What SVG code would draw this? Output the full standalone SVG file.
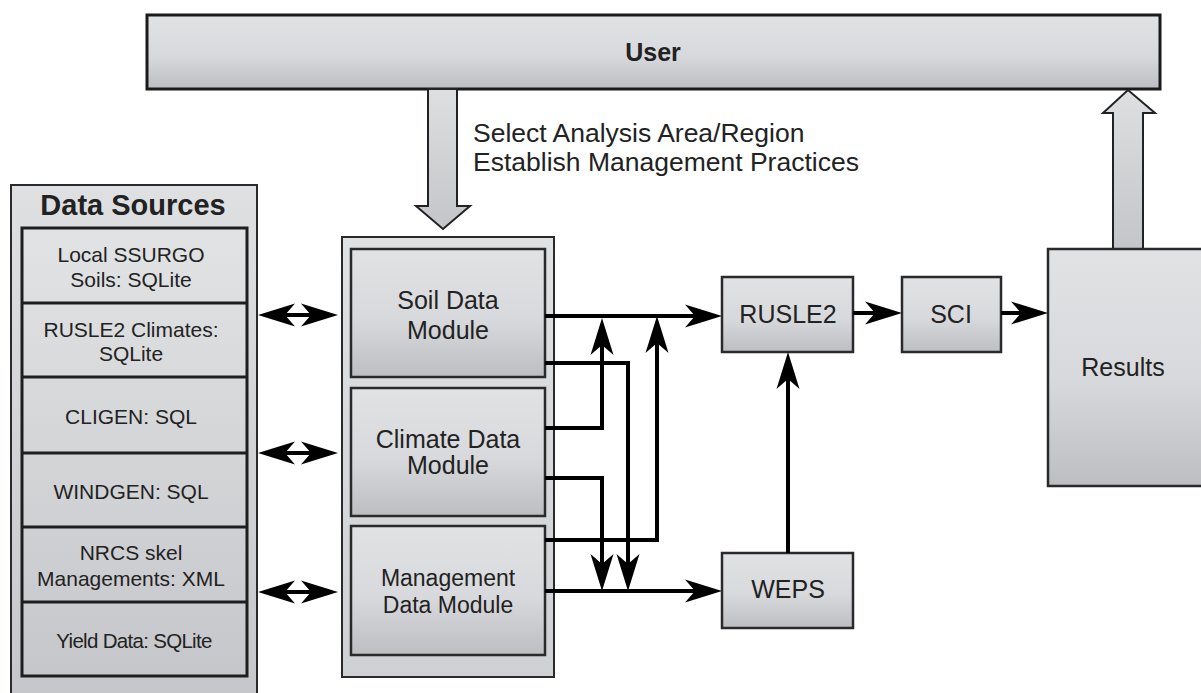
<svg xmlns="http://www.w3.org/2000/svg" width="1201" height="693" viewBox="0 0 1201 693">
<style>
  .t { font-family: "Liberation Sans", Arial, sans-serif; fill: #222; text-anchor: middle; }
  .box { stroke: #2a2a2a; stroke-width: 2.5; fill: url(#g); }
  .cont { stroke: #2a2a2a; stroke-width: 2; }
  .conn { fill: none; stroke: #000; stroke-width: 4; }
  .blk { stroke: #222; stroke-width: 2; stroke-linejoin: miter; }
</style>
<defs>
  <linearGradient id="g" x1="0" y1="0" x2="0" y2="1">
    <stop offset="0" stop-color="#e1e2e4"/>
    <stop offset="0.55" stop-color="#d8d9dc"/>
    <stop offset="1" stop-color="#bdbec1"/>
  </linearGradient>
  <linearGradient id="gc" x1="0" y1="0" x2="0" y2="1">
    <stop offset="0" stop-color="#e0e1e3"/>
    <stop offset="1" stop-color="#cfd0d3"/>
  </linearGradient>
  <linearGradient id="gds" gradientUnits="userSpaceOnUse" x1="0" y1="185" x2="0" y2="693">
    <stop offset="0" stop-color="#dfe0e2"/>
    <stop offset="1" stop-color="#c6c7ca"/>
  </linearGradient>
  <linearGradient id="gcell" gradientUnits="userSpaceOnUse" x1="0" y1="228" x2="0" y2="676">
    <stop offset="0" stop-color="#e2e3e5"/>
    <stop offset="1" stop-color="#c6c7ca"/>
  </linearGradient>
  <linearGradient id="gb" x1="0" y1="0" x2="0" y2="1">
    <stop offset="0" stop-color="#dedfe1"/>
    <stop offset="1" stop-color="#c4c5c8"/>
  </linearGradient>
  <marker id="ah" viewBox="0 -12 37 24" markerWidth="37" markerHeight="24" refX="13" refY="0" orient="auto-start-reverse" markerUnits="userSpaceOnUse">
    <path d="M37,0 L0,-11.5 L10,0 L0,11.5 Z" fill="#000"/>
  </marker>
</defs>

<g id="user">
  <rect x="147" y="15" width="1013" height="74" fill="url(#g)" stroke="#1a1a1a" stroke-width="3"/>
  <text class="t" x="653" y="61" font-size="25" font-weight="bold">User</text>
</g>

<g id="user-input-arrow">
  <path class="blk" fill="url(#gb)" d="M428,89 H457 V206 H470 L443,229 L416,206 H428 Z"/>
  <text class="t" x="473" y="142" font-size="26.5" style="text-anchor:start">Select Analysis Area/Region</text>
  <text class="t" x="473" y="171" font-size="26.5" style="text-anchor:start">Establish Management Practices</text>
</g>

<g id="results-arrow">
  <path class="blk" fill="url(#gb)" d="M1113,249 V113 H1103 L1128,90 L1155,113 H1143 V249 Z"/>
</g>

<g id="data-sources">
  <rect x="11" y="185" width="246" height="520" fill="url(#gds)" class="cont"/>
  <text class="t" x="133" y="215" font-size="29" font-weight="bold">Data Sources</text>
  <rect x="22" y="228" width="225" height="448" fill="url(#gcell)" stroke="#1e1e1e" stroke-width="3"/>
  <g stroke="#1e1e1e" stroke-width="3">
    <line x1="22" y1="303" x2="247" y2="303"/>
    <line x1="22" y1="377" x2="247" y2="377"/>
    <line x1="22" y1="453" x2="247" y2="453"/>
    <line x1="22" y1="527" x2="247" y2="527"/>
    <line x1="22" y1="602" x2="247" y2="602"/>
  </g>
  <text class="t" x="131" y="262" font-size="21">Local SSURGO</text>
  <text class="t" x="131" y="287" font-size="21">Soils: SQLite</text>
  <text class="t" x="131" y="337" font-size="21">RUSLE2 Climates:</text>
  <text class="t" x="131" y="361" font-size="21">SQLite</text>
  <text class="t" x="131" y="424" font-size="21">CLIGEN: SQL</text>
  <text class="t" x="131" y="499" font-size="21">WINDGEN: SQL</text>
  <text class="t" x="131" y="560" font-size="21">NRCS skel</text>
  <text class="t" x="131" y="586" font-size="21">Managements: XML</text>
  <text class="t" x="134" y="648" font-size="20.5" letter-spacing="-0.7">Yield Data: SQLite</text>
</g>

<g id="modules">
  <rect x="342" y="237" width="212" height="440" fill="url(#gc)" class="cont"/>
</g>
<g id="soil-module">
  <rect class="box" x="351" y="249" width="194" height="128"/>
  <text class="t" x="448" y="309" font-size="25">Soil Data</text>
  <text class="t" x="448" y="339" font-size="25">Module</text>
</g>
<g id="climate-module">
  <rect class="box" x="351" y="388" width="194" height="128"/>
  <text class="t" x="448" y="448" font-size="25">Climate Data</text>
  <text class="t" x="448" y="474" font-size="25">Module</text>
</g>
<g id="management-module">
  <rect class="box" x="351" y="526" width="194" height="129"/>
  <text class="t" x="448" y="586" font-size="23">Management</text>
  <text class="t" x="448" y="613" font-size="23">Data Module</text>
</g>

<g id="rusle2">
  <rect class="box" x="722" y="277" width="131" height="75"/>
  <text class="t" x="788" y="323" font-size="25">RUSLE2</text>
</g>
<g id="sci">
  <rect class="box" x="902" y="277" width="99" height="75"/>
  <text class="t" x="951" y="323" font-size="25">SCI</text>
</g>
<g id="weps">
  <rect class="box" x="722" y="553" width="131" height="75"/>
  <text class="t" x="788" y="598" font-size="25">WEPS</text>
</g>
<g id="results">
  <rect class="box" x="1048" y="249" width="165" height="237"/>
  <text class="t" x="1123" y="376" font-size="25">Results</text>
</g>

<g id="connectors">
  <path class="conn" d="M282,315 H314" marker-start="url(#ah)" marker-end="url(#ah)"/>
  <path class="conn" d="M282,453 H314" marker-start="url(#ah)" marker-end="url(#ah)"/>
  <path class="conn" d="M282,592 H314" marker-start="url(#ah)" marker-end="url(#ah)"/>
  <path class="conn" d="M545,316 H698" marker-end="url(#ah)"/>
  <path class="conn" d="M545,591 H698" marker-end="url(#ah)"/>
  <path class="conn" d="M853,313 H878" marker-end="url(#ah)"/>
  <path class="conn" d="M1001,313 H1024" marker-end="url(#ah)"/>
  <path class="conn" d="M788,553 V376" marker-end="url(#ah)"/>
  <path class="conn" d="M545,363 H628 V567" marker-end="url(#ah)"/>
  <path class="conn" d="M545,428 H602 V342" marker-end="url(#ah)"/>
  <path class="conn" d="M545,478 H602 V567" marker-end="url(#ah)"/>
  <path class="conn" d="M545,540 H657 V340" marker-end="url(#ah)"/>
</g>
</svg>
